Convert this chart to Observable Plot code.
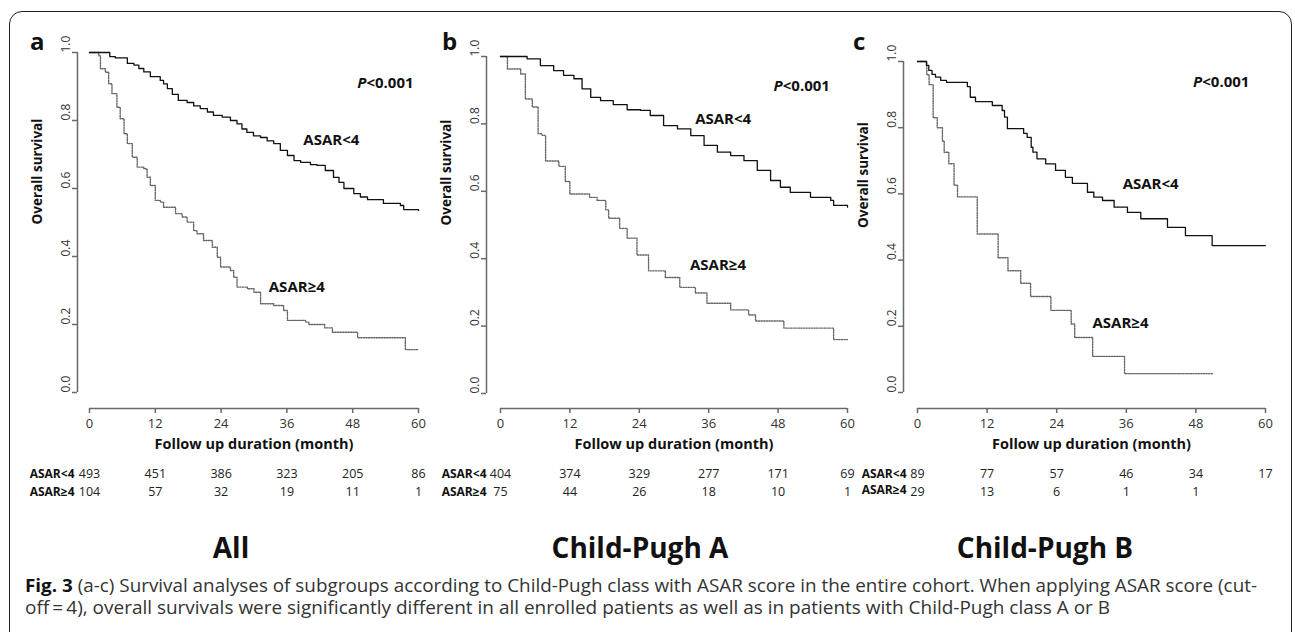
<!DOCTYPE html>
<html>
<head>
<meta charset="utf-8">
<script src="https://cdn.jsdelivr.net/npm/d3@7"></script>
<script src="https://cdn.jsdelivr.net/npm/@observablehq/plot@0.6"></script>
<style>
html, body { margin: 0; padding: 0; background: #fff; }
#root { position: relative; width: 1295px; height: 632px; overflow: hidden; background: #fff; font-family: 'Open Sans', sans-serif; }
#box { position: absolute; left: 9px; top: 11px; width: 1283px; height: 660px; box-sizing: border-box; border: 1.6px solid #222; border-radius: 13px; pointer-events: none; }
.lbl { position: absolute; white-space: nowrap; line-height: 1; color: #111; font-weight: bold; }
.cap { position: absolute; left: 25px; white-space: nowrap; line-height: 1; font-size: 18px; color: #333; transform-origin: 0 0; }
.cap b { color: #111; }
</style>
</head>
<body>
<div id="root"><div id="box"></div></div>
<script>
// ---------------- data ----------------
const xTicks = [0, 12, 24, 36, 48, 60];
const yTicks = [0, 0.2, 0.4, 0.6, 0.8, 1.0];
const groupLow = "ASAR<4";
const groupHigh = "ASAR\u22654";
const pText = "<0.001";
const panelLetters = ["a", "b", "c"];
const panelTitles = ["All", "Child-Pugh A", "Child-Pugh B"];
const xTitle = "Follow up duration (month)";
const yTitle = "Overall survival";

// Panel a : all patients
const aLowTime = [0,3.7,4.7,6.9,8.1,9.0,9.9,11.1,12.9,13.5,14.2,15.1,16.2,17.8,19.0,20.2,21.5,22.6,24.2,25.7,26.9,27.8,28.7,29.9,31.2,32.4,33.6,34.8,36.1,37.3,38.5,40.3,41.5,43.0,44.5,45.5,46.4,48.2,49.4,50.7,53.6,56.7,57.3,60];
const aLowSurv = [1,0.988,0.984,0.968,0.963,0.953,0.943,0.929,0.918,0.908,0.894,0.877,0.859,0.853,0.843,0.835,0.825,0.815,0.81,0.8,0.79,0.775,0.765,0.755,0.75,0.74,0.732,0.712,0.697,0.682,0.677,0.670,0.668,0.653,0.633,0.618,0.6,0.585,0.575,0.567,0.556,0.55,0.538,0.535];
const aHighTime = [0,1.7,2.0,2.9,3.5,4.1,5.0,5.6,6.3,6.9,7.8,8.7,9.9,10.5,11.1,12.0,12.9,13.5,15.7,16.9,17.8,19.0,19.6,20.8,22.4,23.3,23.9,25.7,26.3,26.9,28.8,30.0,31.2,33.6,35.4,36.1,39.4,40.0,42.9,44.3,48.9,57.6,60];
const aHighSurv = [1,0.99,0.952,0.942,0.908,0.879,0.839,0.805,0.761,0.732,0.692,0.663,0.658,0.633,0.609,0.565,0.560,0.545,0.526,0.516,0.501,0.476,0.467,0.447,0.427,0.398,0.369,0.359,0.339,0.310,0.305,0.295,0.261,0.256,0.241,0.212,0.207,0.200,0.190,0.177,0.161,0.126,0.126];
const aRiskLow = [493, 451, 386, 323, 205, 86];
const aRiskHigh = [104, 57, 32, 19, 11, 1];

// Panel b : Child-Pugh A
const bLowTime = [0,4.6,6.9,9.2,10.9,12.7,14.1,15.6,17.3,19.5,21.9,24.2,25.9,28.2,30.6,32.9,35.2,37.5,39.8,42.1,44.4,46.7,48.4,50.1,53.6,57.1,57.6,60];
const bLowSurv = [1,0.993,0.973,0.958,0.944,0.934,0.904,0.879,0.869,0.857,0.842,0.84,0.825,0.795,0.785,0.765,0.736,0.716,0.706,0.691,0.662,0.632,0.612,0.597,0.582,0.573,0.558,0.553];
const bHighTime = [0,1.2,3.5,4.3,5.5,6.5,7.2,7.8,10.1,11.2,12.0,15.4,16.7,18.2,18.7,20.6,21.9,23.6,25.6,28.5,31.0,33.7,35.7,39.8,42.9,44.1,49.0,57.6,60];
const bHighSurv = [1,0.963,0.948,0.874,0.85,0.771,0.766,0.69,0.674,0.629,0.592,0.582,0.573,0.545,0.52,0.49,0.461,0.411,0.364,0.344,0.315,0.298,0.268,0.248,0.233,0.215,0.194,0.16,0.16];
const bRiskLow = [404, 374, 329, 277, 171, 69];
const bRiskHigh = [75, 44, 26, 18, 10, 1];

// Panel c : Child-Pugh B
const cLowTime = [0,1.55,1.95,2.5,3.1,4.0,5.0,8.6,9.1,10.0,12.9,14.6,15.0,15.5,18.3,18.9,19.6,19.9,20.6,22.1,23.8,25.5,26.7,29.3,30.4,31.9,33.9,36.2,38.5,43.1,46.2,50.8,60];
const cLowSurv = [1,0.988,0.973,0.961,0.953,0.943,0.937,0.924,0.892,0.879,0.867,0.852,0.832,0.797,0.783,0.771,0.741,0.726,0.706,0.691,0.671,0.650,0.632,0.605,0.590,0.580,0.560,0.544,0.525,0.499,0.474,0.444,0.444];
const cHighTime = [0,1.6,2.0,2.7,3.4,4.3,4.6,5.4,6.3,6.9,10.3,13.9,15.6,17.8,19.5,23.0,26.5,27.1,30.2,35.7,51.0];
const cHighSurv = [1,0.96,0.93,0.83,0.80,0.76,0.726,0.691,0.626,0.591,0.479,0.407,0.368,0.330,0.290,0.248,0.207,0.166,0.109,0.057,0.057];
const cRiskLow = [89, 77, 57, 46, 34, 17];
const cRiskHigh = [29, 13, 6, 1, 1, null];

const captionBold = "Fig. 3";
const captionLine1 = " (a-c) Survival analyses of subgroups according to Child-Pugh class with ASAR score in the entire cohort. When applying ASAR score (cut-";
const captionLine2 = "off\u2009=\u20094), overall survivals were significantly different in all enrolled patients as well as in patients with Child-Pugh class A or B";

// ---------------- helpers ----------------
const curve = (t, s) => t.map((d, i) => ({t: d, s: s[i]}));
const risk = (row) => xTicks.map((t, i) => ({t, n: row[i]})).filter(d => d.n != null);
const [xMin, xMax] = d3.extent(xTicks);
const [yMin, yMax] = d3.extent(yTicks);

const FONT = "'Open Sans', sans-serif";
const H = 510, MB = 102, TICK = 5;

const panels = [
  {left: 0,   width: 440, mL: 77, iL: 12, mR: 10, iR: 12, mT: 40, iT: 12, iB: 16,
   low: curve(aLowTime, aLowSurv), high: curve(aHighTime, aHighSurv),
   rLow: risk(aRiskLow), rHigh: risk(aRiskHigh),
   pPos: [50.5, 0.909], lowPos: [44.1, 0.741], highPos: [37.8, 0.309],
   labDx: -15, lab2Dy: 0},
  {left: 420, width: 445, mL: 66, iL: 14, mR: 4, iR: 14, mT: 42, iT: 14, iB: 15,
   low: curve(bLowTime, bLowSurv), high: curve(bHighTime, bHighSurv),
   rLow: risk(bRiskLow), rHigh: risk(bRiskHigh),
   pPos: [48.8, 0.911], lowPos: [38.5, 0.813], highPos: [37.6, 0.38],
   labDx: -14, lab2Dy: 0},
  {left: 850, width: 445, mL: 53, iL: 14, mR: 16, iR: 14, mT: 47, iT: 14, iB: 16,
   low: curve(cLowTime, cLowSurv), high: curve(cHighTime, cHighSurv),
   rLow: risk(cRiskLow), rHigh: risk(cRiskHigh),
   pPos: [49.1, 0.937], lowPos: [40.2, 0.628], highPos: [35, 0.208],
   labDx: -11, lab2Dy: -2}
];

const root = document.getElementById("root");

panels.forEach(p => {
  const kx = (p.width - p.mL - p.mR - p.iL - p.iR) / (xMax - xMin);
  const ky = (H - MB - p.mT - p.iT - p.iB) / (yMax - yMin);
  const axX = xMin - p.iL / kx;      // x value of the y-axis line
  const axY = yMin - p.iB / ky;      // y value of the x-axis line
  const chart = Plot.plot({
    width: p.width, height: H,
    marginLeft: p.mL, marginRight: p.mR, marginTop: p.mT, marginBottom: MB,
    insetLeft: p.iL, insetRight: p.iR, insetTop: p.iT, insetBottom: p.iB,
    x: {domain: [xMin, xMax], axis: null},
    y: {domain: [yMin, yMax], axis: null},
    marks: [
      Plot.ruleX([axX], {y1: yMin, y2: yMax, stroke: "dimgray", strokeWidth: 1.5}),
      Plot.ruleY([axY], {x1: xMin, x2: xMax, stroke: "dimgray", strokeWidth: 1.5}),
      Plot.ruleY(yTicks, {x1: axX, x2: axX - TICK / kx, stroke: "dimgray", strokeWidth: 1.5}),
      Plot.ruleX(xTicks, {y1: axY, y2: axY - TICK / ky, stroke: "dimgray", strokeWidth: 1.5}),
      Plot.text(yTicks, {y: d => d, text: d => d.toFixed(1), frameAnchor: "left", dx: -11, rotate: -90, fontSize: 12, fill: "#333"}),
      Plot.text(xTicks, {x: d => d, text: d => String(d), frameAnchor: "bottom", dy: 19, fontSize: 13, fill: "#333"}),
      Plot.line(p.high, {x: "t", y: "s", curve: "step-after", stroke: "#666", strokeWidth: 1.4, strokeDasharray: "1.3,1.3"}),
      Plot.line(p.low, {x: "t", y: "s", curve: "step-after", stroke: "#111", strokeWidth: 1.3}),
      Plot.text([groupLow], {x: p.lowPos[0], y: p.lowPos[1], fontWeight: "bold", fontSize: 15, fill: "#111"}),
      Plot.text([groupHigh], {x: p.highPos[0], y: p.highPos[1], fontWeight: "bold", fontSize: 15, fill: "#111"}),
      Plot.text(["P"], {x: p.pPos[0], y: p.pPos[1], textAnchor: "end", fontStyle: "italic", fontWeight: "bold", fontSize: 15, fill: "#111"}),
      Plot.text([pText], {x: p.pPos[0], y: p.pPos[1], textAnchor: "start", fontWeight: "bold", fontSize: 15, fill: "#111"}),
      Plot.text([yTitle], {frameAnchor: "left", dx: -40, rotate: -90, fontWeight: "bold", fontSize: 13.5, fill: "#111"}),
      Plot.text([xTitle], {frameAnchor: "bottom", dy: 40, fontWeight: "bold", fontSize: 14.5, fill: "#111"}),
      Plot.text(p.rLow, {x: "t", text: "n", frameAnchor: "bottom", dy: 69, fontSize: 12.5, fill: "#222"}),
      Plot.text(p.rHigh, {x: "t", text: "n", frameAnchor: "bottom", dy: 87, fontSize: 12.5, fill: "#222"}),
      Plot.text([groupLow], {x: xMin, frameAnchor: "bottom", dy: 69, dx: p.labDx, textAnchor: "end", fontWeight: "bold", fontSize: 12, fill: "#111"}),
      Plot.text([groupHigh], {x: xMin, frameAnchor: "bottom", dy: 87 + p.lab2Dy, dx: p.labDx, textAnchor: "end", fontWeight: "bold", fontSize: 12, fill: "#111"})
    ]
  });
  chart.style.position = "absolute";
  chart.style.left = p.left + "px";
  chart.style.top = "0px";
  chart.style.maxWidth = "none";
  chart.style.overflow = "visible";
  chart.style.fontFamily = FONT;
  root.appendChild(chart);
});

// ---------------- HTML texts: panel letters, titles, caption ----------------
function label(text, x, baseline, size, centered) {
  const el = document.createElement("div");
  el.className = "lbl";
  el.textContent = text;
  el.style.fontSize = size + "px";
  el.style.left = x + "px";
  el.style.top = (baseline - 0.888 * size) + "px";
  if (centered) el.style.transform = "translateX(-50%)";
  root.appendChild(el);
  return el;
}
const letterX = [30, 442, 853];
panelLetters.forEach((l, i) => label(l, letterX[i], 50, 24, false));
const titleX = [231, 640, 1045];
panelTitles.forEach((t, i) => label(t, titleX[i], 558, 28, true));

function captionLine(parts, baseline, targetWidth) {
  const el = document.createElement("div");
  el.className = "cap";
  el.style.top = (baseline - 0.888 * 18) + "px";
  parts.forEach(([txt, bold]) => {
    const s = document.createElement(bold ? "b" : "span");
    s.textContent = txt;
    el.appendChild(s);
  });
  root.appendChild(el);
  const w = el.getBoundingClientRect().width;
  if (w > 0) el.style.transform = "scaleX(" + (targetWidth / w) + ")";
}
captionLine([[captionBold, true], [captionLine1, false]], 592, 1232);
captionLine([[captionLine2, false]], 614, 1085);
</script>
</body>
</html>
